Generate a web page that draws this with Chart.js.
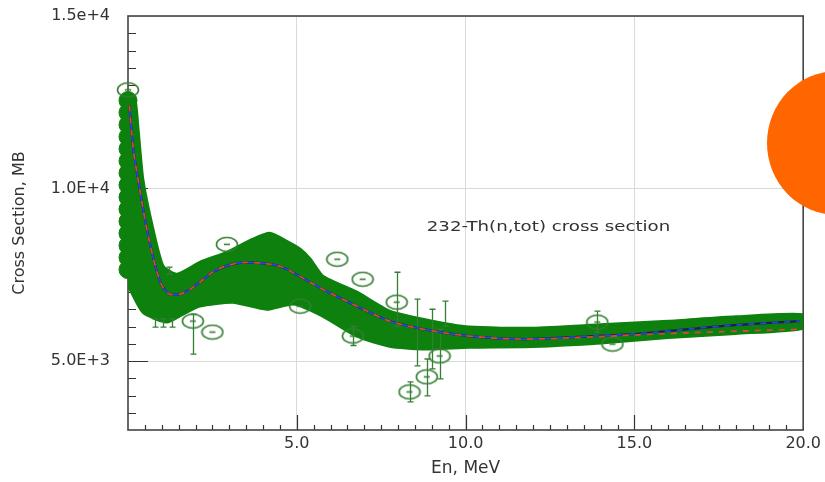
<!DOCTYPE html>
<html>
<head>
<meta charset="utf-8">
<script src="https://cdn.jsdelivr.net/npm/chart.js@4"></script>
<style>
  html, body { margin: 0; padding: 0; background: #fff; overflow: hidden; }
  #wrap { position: relative; width: 825px; height: 482px; }
  #blob { position: absolute; left: 767px; top: 71px; width: 140px; height: 144px; border-radius: 50%; background: #ff6600; }
</style>
</head>
<body>
<div id="wrap">
  <canvas id="c" width="825" height="482"></canvas>
  <div id="blob"></div>
</div>
<script>
// axis ticks
const xTicks = [5, 10, 15, 20];
const xTickLabels = ['5.0', '10.0', '15.0', '20.0'];
const yTicks = [5000, 10000, 15000];
const yTickLabels = ['5.0E+3', '1.0E+4', '1.5e+4'];

// evaluated curve (En in MeV, cross section in mb)
const fitX = [0.04, 0.15, 0.3, 0.56, 0.86, 1.0, 1.3, 1.54, 2.13, 2.5, 3.0, 3.5, 4.0, 4.5, 5.0, 5.77, 6.78, 7.75, 8.73, 10.1, 11.8, 13.76, 15.1, 17.6, 19.9];
const fitY = [12400, 11200, 10260, 8815, 7573, 7200, 6920, 6937, 7284, 7573, 7780, 7860, 7830, 7746, 7500, 7080, 6590, 6157, 5925, 5723, 5636, 5723, 5790, 6012, 6157];
const redY = [12400, 11200, 10260, 8815, 7573, 7200, 6920, 6937, 7284, 7573, 7780, 7860, 7830, 7746, 7500, 7080, 6590, 6157, 5925, 5723, 5636, 5700, 5760, 5850, 5920];

// outline of the dense cloud of measurements (upper edge, then lower edge back)
const bandX = [0, 0.2, 0.3, 0.44, 0.74, 1.04, 1.45, 2.13, 2.93, 3.7, 4.2, 4.7, 5.1, 5.4, 5.77, 6.78, 7.75, 8.73, 10.1, 12, 14, 16, 18, 20,
               20, 18, 16, 14, 12, 10.1, 8.73, 7.75, 6.78, 5.77, 4.9, 4.1, 3.1, 2.13, 1.63, 1.15, 0.44, 0];
const bandY = [12650, 12600, 11700, 10260, 8815, 7745, 7515, 7860, 8150, 8530, 8700, 8470, 8240, 7950, 7457, 6995, 6446, 6214, 5983, 5950, 6050, 6150, 6280, 6340,
               5950, 5800, 5680, 5520, 5420, 5400, 5350, 5430, 5720, 6300, 6650, 6500, 6705, 6590, 6360, 6130, 6417, 7200];

// lowest-energy points piled at the left axis
const colX = [0, 0, 0, 0, 0, 0, 0, 0, 0, 0, 0, 0, 0, 0, 0];
const colY = [12550, 12200, 11850, 11500, 11150, 10800, 10450, 10100, 9750, 9400, 9050, 8700, 8350, 8000, 7650];

// separate open-circle measurements
const ringX = [0.0, 2.93, 1.92, 2.5, 6.2, 6.95, 6.66, 8.34, 8.85, 9.23, 13.9, 14.35, 7.96, 5.1];
const ringY = [12860, 8382, 6157, 5838, 7950, 7370, 5723, 4105, 4540, 5145, 6127, 5490, 6705, 6590];

// error bars
const errX = [1.92, 8.34, 8.85, 9.23, 13.9, 7.96, 8.55, 9.38, 9.0, 0.8, 1.05, 1.3, 1.2, 6.66];
const errLo = [5200, 3816, 3989, 4480, 5838, 6012, 4856, 6012, 4770, 5980, 5980, 5980, 7515, 5450];
const errHi = [6360, 4394, 5058, 5925, 6446, 7573, 6793, 6735, 6500, 6220, 6220, 6220, 7720, 6000];

const noteText = '232-Th(n,tot) cross section';
const noteX = 8.85, noteY = 8870;

const GREEN = '#0d800d';
const pts = (xs, ys) => xs.map((x, i) => ({ x, y: ys[i] }));

function ringStyle() {
  const c = document.createElement('canvas');
  c.width = 24; c.height = 17;
  const g = c.getContext('2d');
  g.strokeStyle = '#347f34';
  g.lineWidth = 1.6;
  g.beginPath(); g.ellipse(12, 8.5, 10.5, 7, 0, 0, Math.PI * 2); g.stroke();
  g.beginPath(); g.moveTo(9, 8.5); g.lineTo(15, 8.5); g.stroke();
  return c;
}

const BAND = 5;

const frame = {
  id: 'frame',
  beforeDatasetsDraw(chart) {
    const { ctx, chartArea: a, scales: { x, y } } = chart;
    ctx.save();
    ctx.strokeStyle = '#333';
    ctx.lineWidth = 1.2;
    ctx.beginPath();
    for (let v = 0.5; v < 20; v += 0.5) {
      const px = Math.round(x.getPixelForValue(v)) + 0.5;
      const len = v % 5 === 0 ? 15 : 5;
      ctx.moveTo(px, a.bottom); ctx.lineTo(px, a.bottom - len);
    }
    for (let v = 3500; v < 15000; v += 500) {
      const py = Math.round(y.getPixelForValue(v)) + 0.5;
      const len = v % 5000 === 0 ? 20 : 8;
      ctx.moveTo(a.left, py); ctx.lineTo(a.left + len, py);
    }
    ctx.stroke();
    ctx.strokeStyle = '#444';
    ctx.lineWidth = 1.6;
    ctx.strokeRect(a.left, a.top, a.right - a.left, a.bottom - a.top);
    ctx.restore();
  },
  afterDatasetDraw(chart, args) {
    if (args.index !== BAND) return;
    const { ctx, scales: { x, y } } = chart;
    ctx.save();
    ctx.strokeStyle = '#347f34';
    ctx.lineWidth = 1.3;
    ctx.beginPath();
    errX.forEach((v, i) => {
      const px = Math.round(x.getPixelForValue(v)) + 0.5;
      const p1 = y.getPixelForValue(errLo[i]), p2 = y.getPixelForValue(errHi[i]);
      ctx.moveTo(px, p1); ctx.lineTo(px, p2);
      ctx.moveTo(px - 3, p1); ctx.lineTo(px + 3, p1);
      ctx.moveTo(px - 3, p2); ctx.lineTo(px + 3, p2);
    });
    ctx.stroke();
    ctx.restore();
  },
  afterDatasetsDraw(chart) {
    const { ctx, scales: { x, y } } = chart;
    ctx.save();
    ctx.font = '14px "DejaVu Sans"';
    ctx.fillStyle = '#333';
    ctx.textBaseline = 'middle';
    ctx.translate(x.getPixelForValue(noteX), y.getPixelForValue(noteY));
    ctx.scale(1.3, 1);
    ctx.fillText(noteText, 0, 0);
    ctx.restore();
  }
};

const font16 = { family: 'DejaVu Sans', size: 16 };

new Chart(document.getElementById('c'), {
  type: 'scatter',
  data: {
    datasets: [
      { label: 'red', data: pts(fitX, redY), showLine: true, borderColor: '#d4483a', borderWidth: 1.8, borderDash: [6, 6], pointRadius: 0, cubicInterpolationMode: 'monotone', order: 0 },
      { label: 'blue', data: pts(fitX, fitY), showLine: true, borderColor: '#2a46d8', borderWidth: 1.8, borderDash: [6, 6], borderDashOffset: 6, pointRadius: 0, cubicInterpolationMode: 'monotone', order: 1 },
      { label: 'fit', data: pts(fitX, fitY), showLine: true, borderColor: '#1c1c5a', borderWidth: 2.2, pointRadius: 0, cubicInterpolationMode: 'monotone', order: 2 },
      { label: 'rings', data: pts(ringX, ringY), pointStyle: ringStyle(), pointRadius: 10, clip: false, order: 3 },
      { label: 'column', data: pts(colX, colY), pointRadius: 9, backgroundColor: GREEN, borderColor: GREEN, clip: false, order: 4 },
      { label: 'band', data: pts(bandX, bandY), showLine: true, fill: 'shape', backgroundColor: GREEN, borderColor: GREEN, borderWidth: 3, pointRadius: 0, tension: 0.2, order: 5 }
    ]
  },
  options: {
    responsive: false,
    animation: false,
    layout: { padding: { top: 16, right: 19, left: 0, bottom: 0 } },
    plugins: { legend: { display: false }, tooltip: { enabled: false } },
    scales: {
      x: {
        type: 'linear', min: 0, max: 20,
        afterBuildTicks: s => { s.ticks = xTicks.map(v => ({ value: v })); },
        afterFit: s => { s.height = 52; },
        ticks: { callback: v => xTickLabels[xTicks.indexOf(v)], color: '#333', font: font16, padding: 4, maxRotation: 0, autoSkip: false },
        grid: { color: '#dadada', lineWidth: 1, drawTicks: false },
        border: { display: false },
        title: { display: true, text: 'En, MeV', color: '#333', font: { family: 'DejaVu Sans', size: 17 }, padding: { top: 0, bottom: 3 } }
      },
      y: {
        type: 'linear', min: 3000, max: 15000,
        afterBuildTicks: s => { s.ticks = yTicks.map(v => ({ value: v })); },
        afterFit: s => { s.width = 128; },
        ticks: { callback: v => yTickLabels[yTicks.indexOf(v)], color: '#333', font: font16, padding: 0 },
        grid: { color: '#dadada', lineWidth: 1, drawTicks: true, tickLength: 18, tickColor: 'rgba(0,0,0,0)' },
        border: { display: false },
        title: { display: true, text: 'Cross Section, MB', color: '#333', font: font16, padding: { top: 10, bottom: 0 } }
      }
    }
  },
  plugins: [frame]
});
</script>
</body>
</html>
